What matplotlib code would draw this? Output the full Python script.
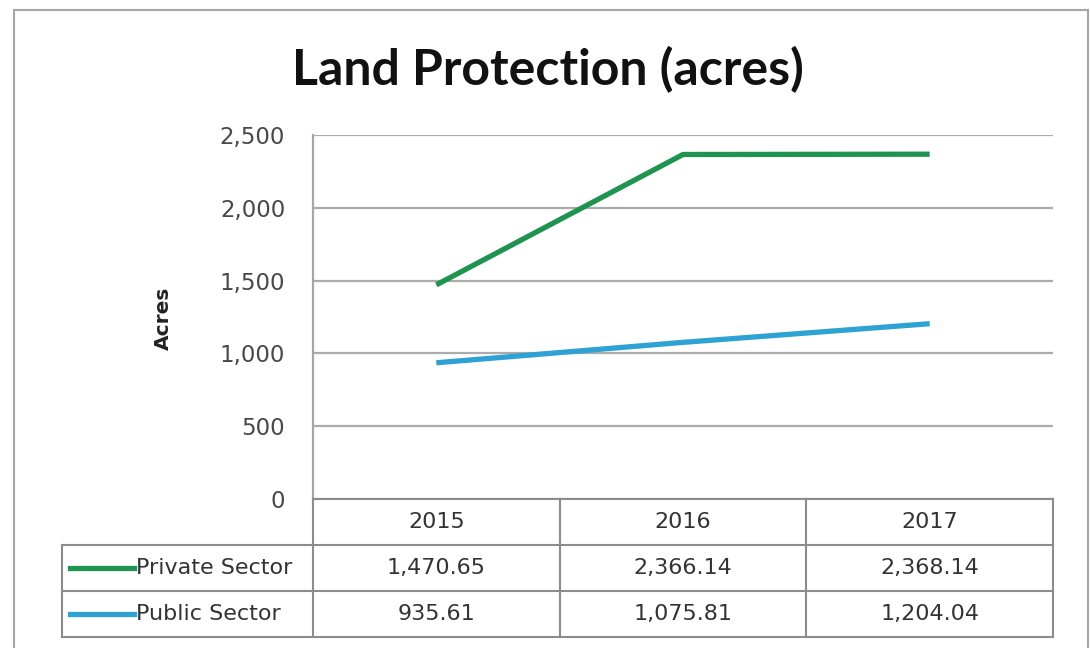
import matplotlib
matplotlib.use("Agg")
import matplotlib.pyplot as plt
from matplotlib.patches import Rectangle
from matplotlib.lines import Line2D

plt.rcParams['font.family'] = ['DejaVu Sans']

years = ['2015', '2016', '2017']
series_names = ['Private Sector', 'Public Sector']
private_sector = [1470.65, 2366.14, 2368.14]
public_sector = [935.61, 1075.81, 1204.04]
series_values = [private_sector, public_sector]
series_colors = ['#1e9450', '#2ea2d3']
y_ticks = [0, 500, 1000, 1500, 2000, 2500]

W, H = 1090, 648
fig = plt.figure(figsize=(W / 100, H / 100), dpi=100)

# outer chart frame
fig.patches.append(Rectangle((14 / W, -0.05), (1088 - 14) / W, 1 - 10 / H + 0.05,
                             transform=fig.transFigure, fill=False,
                             edgecolor='#a6a6a6', linewidth=1.5))

# plot area in pixels
left, right, top, bottom = 313, 1053, 135, 499
ax = fig.add_axes([left / W, 1 - bottom / H, (right - left) / W, (bottom - top) / H])

x = range(len(years))
for vals, c in zip(series_values, series_colors):
    ax.plot(x, vals, color=c, linewidth=3.8, solid_capstyle='butt')

ax.set_xlim(-0.5, len(years) - 0.5)
ax.set_ylim(0, 2500)
ax.set_yticks(y_ticks)
ax.set_yticklabels([f'{v:,}' for v in y_ticks], fontsize=16.5, color='#484848')
ax.set_xticks([])
ax.tick_params(axis='y', length=0, pad=20)
ax.grid(axis='y', color='#ababab', linewidth=1.6)
ax.set_axisbelow(True)
for s in ['top', 'right', 'bottom']:
    ax.spines[s].set_visible(False)
ax.spines['left'].set_color('#a6a6a6')
ax.spines['left'].set_linewidth(1.6)

fig.text(163 / W, 1 - 318 / H, 'Acres', rotation=90, ha='center', va='center',
         fontsize=14.5, fontweight='bold', color='#222222')
fig.text(548 / W, 1 - 70 / H, 'Land Protection (acres)', ha='center', va='center',
         fontsize=36, fontweight='bold', color='#111111', family=['Lato', 'DejaVu Sans'])

# data table below the plot
tab = fig.add_axes([0, 0, 1, 1])
tab.set_xlim(0, W)
tab.set_ylim(H, 0)
tab.axis('off')
row_h = 46
leg_left = 62
colw = (right - left) / len(years)
gc = '#8c8c8c'
lw = 1.5
n_rows = 1 + len(series_names)
# vertical lines
for i in range(len(years) + 1):
    xx = left + i * colw
    tab.add_line(Line2D([xx, xx], [bottom, bottom + n_rows * row_h], color=gc, lw=lw))
tab.add_line(Line2D([leg_left, leg_left], [bottom + row_h, bottom + n_rows * row_h], color=gc, lw=lw))
# horizontal lines
tab.add_line(Line2D([left, right], [bottom, bottom], color=gc, lw=lw))
for r in range(1, n_rows + 1):
    tab.add_line(Line2D([leg_left, right], [bottom + r * row_h] * 2, color=gc, lw=lw))

fs = 16
for i, yr in enumerate(years):
    tab.text(left + (i + 0.5) * colw, bottom + 0.5 * row_h, yr, ha='center', va='center',
             fontsize=fs, color='#333333')
for r, (name, vals, c) in enumerate(zip(series_names, series_values, series_colors)):
    yc = bottom + (r + 1.5) * row_h
    tab.add_line(Line2D([leg_left + 8, leg_left + 72], [yc, yc], color=c, lw=3.8))
    tab.text(leg_left + 74, yc, name, ha='left', va='center', fontsize=fs, color='#333333')
    for i, v in enumerate(vals):
        tab.text(left + (i + 0.5) * colw, yc, f'{v:,.2f}', ha='center', va='center',
                 fontsize=fs, color='#333333')

fig.savefig('out.png', dpi=100)
